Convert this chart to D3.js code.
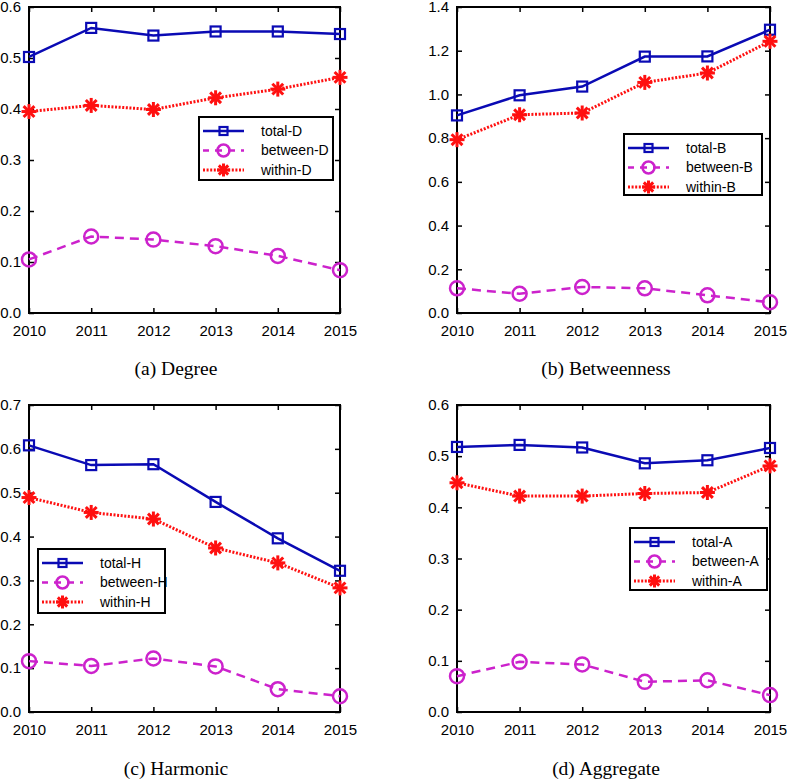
<!DOCTYPE html>
<html>
<head>
<meta charset="utf-8">
<script src="https://cdn.jsdelivr.net/npm/d3@7"></script>
<style>
  body { margin: 0; background: #fff; }
  svg { display: block; }
</style>
</head>
<body>
<svg id="chart" width="787" height="781"></svg>
<script>
// ---- data ----
const years = [2010, 2011, 2012, 2013, 2014, 2015];

const degreeTotal   = [0.502, 0.559, 0.544, 0.552, 0.552, 0.547];
const degreeBetween = [0.105, 0.150, 0.144, 0.131, 0.112, 0.084];
const degreeWithin  = [0.395, 0.407, 0.399, 0.422, 0.439, 0.462];

const betwTotal   = [0.904, 0.996, 1.036, 1.173, 1.174, 1.296];
const betwBetween = [0.113, 0.088, 0.119, 0.113, 0.081, 0.049];
const betwWithin  = [0.793, 0.907, 0.915, 1.055, 1.098, 1.243];

const harmTotal   = [0.608, 0.563, 0.565, 0.479, 0.396, 0.322];
const harmBetween = [0.116, 0.105, 0.122, 0.104, 0.052, 0.036];
const harmWithin  = [0.489, 0.455, 0.440, 0.374, 0.340, 0.283];

const aggTotal   = [0.518, 0.522, 0.517, 0.486, 0.492, 0.516];
const aggBetween = [0.070, 0.098, 0.093, 0.059, 0.062, 0.033];
const aggWithin  = [0.448, 0.422, 0.422, 0.427, 0.429, 0.481];

const yTicksA = [0, 0.1, 0.2, 0.3, 0.4, 0.5, 0.6];
const yTicksB = [0, 0.2, 0.4, 0.6, 0.8, 1.0, 1.2, 1.4];
const yTicksC = [0, 0.1, 0.2, 0.3, 0.4, 0.5, 0.6, 0.7];
const yTicksD = [0, 0.1, 0.2, 0.3, 0.4, 0.5, 0.6];

const panels = [
  { caption: "(a) Degree", suffix: "D", total: degreeTotal, between: degreeBetween, within: degreeWithin, ticks: yTicksA, ymax: 0.6,
    box: {l: 29, r: 340, t: 7, b: 313}, legend: {x: 199, y: 117, w: 134, h: 63}, capX: 176, capY: 375 },
  { caption: "(b) Betweenness", suffix: "B", total: betwTotal, between: betwBetween, within: betwWithin, ticks: yTicksB, ymax: 1.4,
    box: {l: 457, r: 770, t: 7, b: 313}, legend: {x: 624, y: 134, w: 138, h: 61}, capX: 606, capY: 375 },
  { caption: "(c) Harmonic", suffix: "H", total: harmTotal, between: harmBetween, within: harmWithin, ticks: yTicksC, ymax: 0.7,
    box: {l: 29, r: 340, t: 405, b: 712}, legend: {x: 38, y: 549, w: 127, h: 64}, capX: 176, capY: 775 },
  { caption: "(d) Aggregate", suffix: "A", total: aggTotal, between: aggBetween, within: aggWithin, ticks: yTicksD, ymax: 0.6,
    box: {l: 457, r: 770, t: 405, b: 712}, legend: {x: 630, y: 528, w: 137, h: 62}, capX: 606, capY: 775 }
];

const BLUE = "#0a0ab4", MAGENTA = "#cc22cc", RED = "#ff1010";
const svg = d3.select("#chart");

function drawSquare(g, x, y, s) {
  g.append("rect").attr("x", x - s/2).attr("y", y - s/2).attr("width", s).attr("height", s)
    .attr("fill", "none").attr("stroke", BLUE).attr("stroke-width", 2.2);
}
function drawCircle(g, x, y, r) {
  g.append("circle").attr("cx", x).attr("cy", y).attr("r", r)
    .attr("fill", "none").attr("stroke", MAGENTA).attr("stroke-width", 2.5);
}
function drawStar(g, x, y, s) {
  const h = s/2, d = s/2 * 0.72;
  const segs = [[-h,0,h,0],[0,-h,0,h],[-d,-d,d,d],[-d,d,d,-d]];
  segs.forEach(p => g.append("line").attr("x1", x+p[0]).attr("y1", y+p[1]).attr("x2", x+p[2]).attr("y2", y+p[3])
    .attr("stroke", RED).attr("stroke-width", 3).attr("stroke-linecap", "butt"));
}

panels.forEach(p => {
  const x = d3.scaleLinear().domain([2010, 2015]).range([p.box.l, p.box.r]);
  const y = d3.scaleLinear().domain([0, p.ymax]).range([p.box.b, p.box.t]);
  const g = svg.append("g");

  // axes with inward ticks
  const fmt = d3.format(".1f");
  const left = g.append("g").attr("transform", `translate(${p.box.l},0)`)
    .call(d3.axisLeft(y).tickValues(p.ticks).tickSize(-5).tickPadding(8).tickFormat(fmt));
  const bottom = g.append("g").attr("transform", `translate(0,${p.box.b})`)
    .call(d3.axisBottom(x).tickValues(years).tickSize(-5).tickPadding(12).tickFormat(d3.format("d")));
  const right = g.append("g").attr("transform", `translate(${p.box.r},0)`)
    .call(d3.axisRight(y).tickValues(p.ticks).tickSize(-5).tickFormat(""));
  const top = g.append("g").attr("transform", `translate(0,${p.box.t})`)
    .call(d3.axisTop(x).tickValues(years).tickSize(-5).tickFormat(""));
  [left, bottom, right, top].forEach(a => {
    a.select(".domain").remove();
    a.selectAll(".tick line").attr("stroke", "#000").attr("stroke-width", 1.5);
    a.selectAll(".tick text").attr("fill", "#000").style("font-family", "Liberation Sans, Arial, sans-serif").style("font-size", "15px");
  });
  g.append("rect").attr("x", p.box.l).attr("y", p.box.t).attr("width", p.box.r - p.box.l).attr("height", p.box.b - p.box.t)
    .attr("fill", "none").attr("stroke", "#000").attr("stroke-width", 2);

  const line = d3.line().x((d, i) => x(years[i])).y(d => y(d));

  g.append("path").datum(p.between).attr("d", line).attr("fill", "none")
    .attr("stroke", MAGENTA).attr("stroke-width", 2.5).attr("stroke-dasharray", "9,6");
  g.append("path").datum(p.within).attr("d", line).attr("fill", "none")
    .attr("stroke", RED).attr("stroke-width", 3).attr("stroke-dasharray", "2,1.6");
  g.append("path").datum(p.total).attr("d", line).attr("fill", "none")
    .attr("stroke", BLUE).attr("stroke-width", 2.5);

  p.total.forEach((v, i) => drawSquare(g, x(years[i]), y(v), 10));
  p.between.forEach((v, i) => drawCircle(g, x(years[i]), y(v), 7));
  p.within.forEach((v, i) => drawStar(g, x(years[i]), y(v), 15));

  // legend
  const L = p.legend;
  const lg = g.append("g");
  lg.append("rect").attr("x", L.x).attr("y", L.y).attr("width", L.w).attr("height", L.h)
    .attr("fill", "#fff").attr("stroke", "#000").attr("stroke-width", 2);
  const entries = [
    { name: "total-" + p.suffix, kind: "total" },
    { name: "between-" + p.suffix, kind: "between" },
    { name: "within-" + p.suffix, kind: "within" }
  ];
  entries.forEach((e, i) => {
    const ey = L.y + 14 + i * 19.5;
    const x1 = L.x + 4, x2 = L.x + 45, xm = (x1 + x2) / 2;
    const ln = lg.append("line").attr("x1", x1).attr("x2", x2).attr("y1", ey).attr("y2", ey).attr("fill", "none");
    if (e.kind === "total") { ln.attr("stroke", BLUE).attr("stroke-width", 2.5); drawSquare(lg, xm, ey, 8); }
    if (e.kind === "between") { ln.attr("stroke", MAGENTA).attr("stroke-width", 2.5).attr("stroke-dasharray", "7,6").attr("stroke-dashoffset", 1); drawCircle(lg, xm, ey, 6); }
    if (e.kind === "within") { ln.attr("stroke", RED).attr("stroke-width", 3).attr("stroke-dasharray", "2,1.6"); drawStar(lg, xm, ey, 13); }
    lg.append("text").attr("x", L.x + 62).attr("y", ey).attr("dy", "0.35em")
      .style("font-family", "Liberation Sans, Arial, sans-serif").style("font-size", "14px")
      .attr("fill", "#000").text(e.name);
  });

  // caption
  g.append("text").attr("x", p.capX).attr("y", p.capY).attr("text-anchor", "middle")
    .style("font-family", "Liberation Serif, Times New Roman, serif").style("font-size", "19.5px")
    .attr("fill", "#000").text(p.caption);
});
</script>
</body>
</html>
